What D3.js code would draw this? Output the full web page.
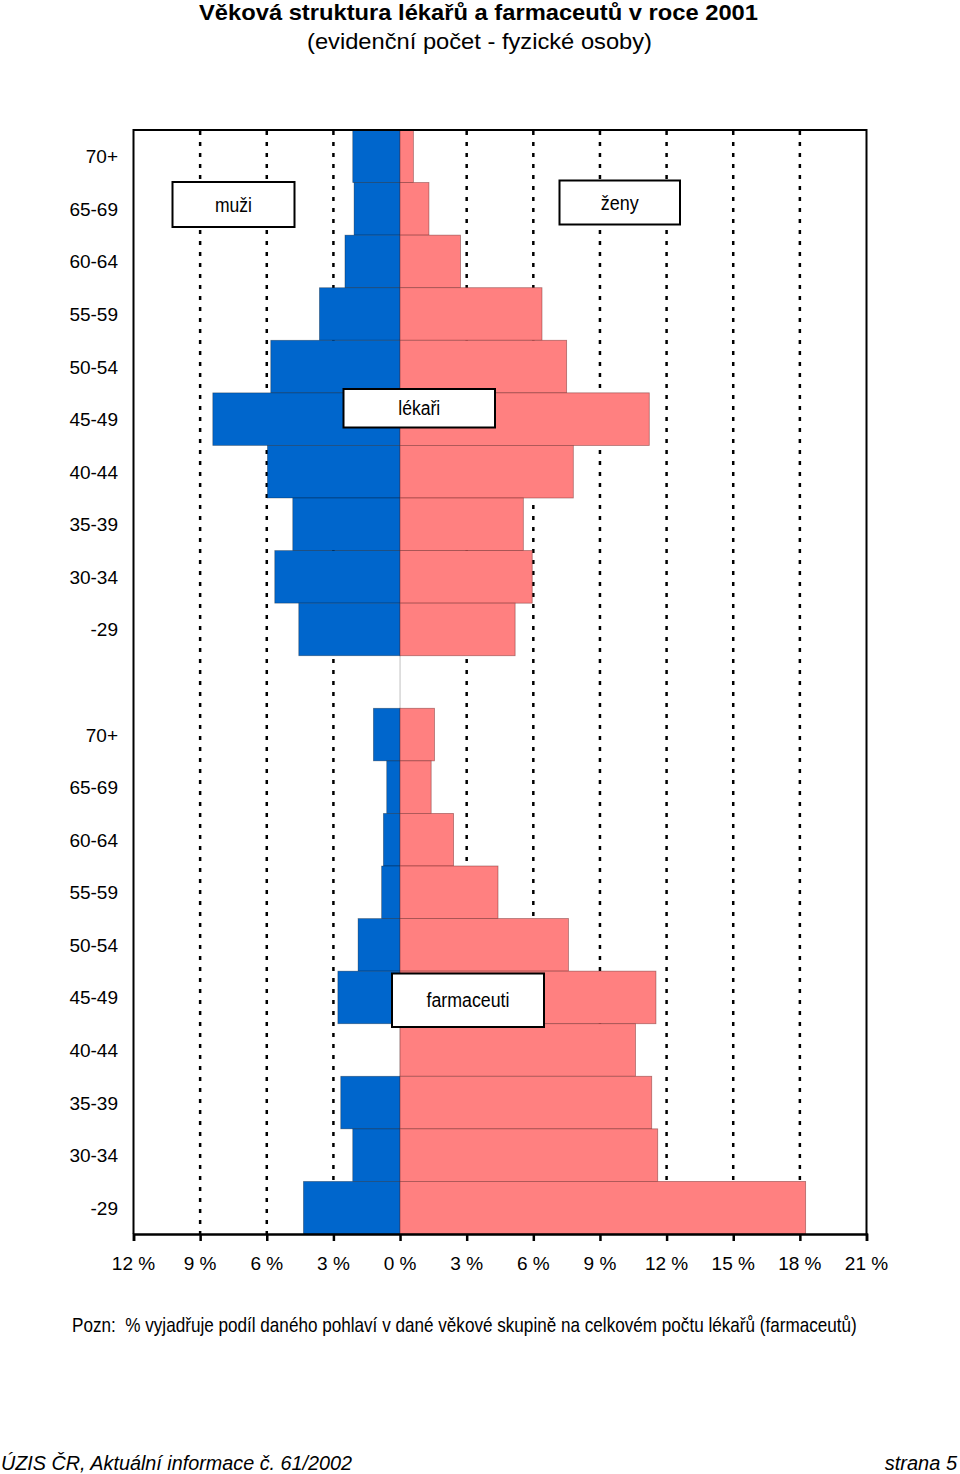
<!DOCTYPE html>
<html>
<head>
<meta charset="utf-8">
<script src="https://cdn.jsdelivr.net/npm/d3@7"></script>
<style>
  html, body { margin: 0; padding: 0; background: #fff; }
  svg { display: block; }
</style>
</head>
<body>
<svg id="chart" width="960" height="1474"></svg>
<script>
// ---- data (percent of total doctors / pharmacists) ----
const ageGroups = ["70+", "65-69", "60-64", "55-59", "50-54", "45-49", "40-44", "35-39", "30-34", "-29"];
const lekariMuzi = [2.13, 2.07, 2.48, 3.63, 5.82, 8.43, 5.97, 4.83, 5.64, 4.56];
const lekariZeny = [0.6, 1.3, 2.72, 6.39, 7.5, 11.22, 7.8, 5.55, 5.95, 5.18];
const farmMuzi   = [1.2, 0.6, 0.75, 0.83, 1.89, 2.8, 0, 2.67, 2.13, 4.35];
const farmZeny   = [1.55, 1.4, 2.41, 4.41, 7.58, 11.52, 10.6, 11.33, 11.6, 18.26];
const tickValues = [-12, -9, -6, -3, 0, 3, 6, 9, 12, 15, 18, 21];
const gridValues = [-9, -6, -3, 3, 6, 9, 12, 15, 18];
const titleText = "Věková struktura lékařů a farmaceutů v roce 2001";
const subtitleText = "(evidenční počet - fyzické osoby)";
const noteText = "Pozn:\u00a0\u00a0% vyjadřuje podíl daného pohlaví v dané věkové skupině na celkovém počtu lékařů (farmaceutů)";
const footerLeft = "ÚZIS ČR, Aktuální informace č. 61/2002";
const footerRight = "strana 5";

// ---- build rows ----
const rows = [];
ageGroups.forEach((g, i) => rows.push({key: "L" + i, label: g, m: lekariMuzi[i], f: lekariZeny[i]}));
rows.push({key: "gap", label: "", m: null, f: null});
ageGroups.forEach((g, i) => rows.push({key: "F" + i, label: g, m: farmMuzi[i], f: farmZeny[i]}));

const svg = d3.select("#chart");
const FONT = "'Liberation Sans', Arial, sans-serif";

const x = d3.scaleLinear().domain([-12, 21]).range([133.5, 866.5]);
const y = d3.scaleBand().domain(rows.map(r => r.key)).range([130, 1234]).padding(0);

// zero line
svg.append("line")
  .attr("x1", x(0)).attr("x2", x(0)).attr("y1", 130).attr("y2", 1234)
  .attr("stroke", "#c0c0c0").attr("stroke-width", 1);

// dotted gridlines
svg.append("g").selectAll("line").data(gridValues).join("line")
  .attr("x1", d => x(d)).attr("x2", d => x(d))
  .attr("y1", 131).attr("y2", 1234)
  .attr("stroke", "#000").attr("stroke-width", 2.5)
  .attr("stroke-dasharray", "4,7");

// bars
const barRows = rows.filter(r => r.m !== null);
svg.append("g").selectAll("rect.m").data(barRows).join("rect")
  .attr("x", d => x(-d.m)).attr("width", d => x(0) - x(-d.m))
  .attr("y", d => y(d.key)).attr("height", y.bandwidth())
  .attr("fill", "#0066CC")
  .attr("stroke", d => d.m > 0 ? "rgba(0,0,0,0.35)" : "none").attr("stroke-width", 0.8);
svg.append("g").selectAll("rect.f").data(barRows).join("rect")
  .attr("x", x(0)).attr("width", d => x(d.f) - x(0))
  .attr("y", d => y(d.key)).attr("height", y.bandwidth())
  .attr("fill", "#FF8080")
  .attr("stroke", "rgba(110,40,40,0.55)").attr("stroke-width", 0.8);

// frame: top, left, right
svg.append("path")
  .attr("d", `M${x(-12)},1234 V130 H${x(21)} V1234`)
  .attr("fill", "none").attr("stroke", "#000").attr("stroke-width", 2);

// bottom axis
const axis = d3.axisBottom(x).tickValues(tickValues).tickSize(7).tickFormat("");
const ax = svg.append("g").attr("transform", "translate(0,1234)").call(axis);
ax.select(".domain").attr("stroke", "#000").attr("stroke-width", 2.5);
ax.selectAll(".tick line").attr("stroke", "#000").attr("stroke-width", 2.5);
svg.append("g").selectAll("text").data(tickValues).join("text")
  .attr("x", d => x(d)).attr("y", 1270)
  .attr("text-anchor", "middle")
  .attr("font-family", FONT).attr("font-size", 19).attr("fill", "#000")
  .text(d => Math.abs(d) + " %");

// age labels
svg.append("g").selectAll("text").data(barRows).join("text")
  .attr("x", 118).attr("y", d => y(d.key) + y.bandwidth() / 2 + 7)
  .attr("text-anchor", "end")
  .attr("font-family", FONT).attr("font-size", 19).attr("fill", "#000")
  .text(d => d.label);

// label boxes
const boxes = [
  {t: "muži", x0: 172.5, x1: 294.5, y0: 182, y1: 227, w: 37},
  {t: "ženy", x0: 559.5, x1: 680, y0: 180.5, y1: 224.5, w: 38},
  {t: "lékaři", x0: 343.5, x1: 495, y0: 389, y1: 427.5, w: 42},
  {t: "farmaceuti", x0: 392, x1: 544, y0: 973.5, y1: 1027, w: 83}
];
const bg = svg.append("g").selectAll("g").data(boxes).join("g");
bg.append("rect")
  .attr("x", d => d.x0).attr("y", d => d.y0)
  .attr("width", d => d.x1 - d.x0).attr("height", d => d.y1 - d.y0)
  .attr("fill", "#fff").attr("stroke", "#000").attr("stroke-width", 2);
bg.append("text")
  .attr("x", d => (d.x0 + d.x1) / 2).attr("y", d => (d.y0 + d.y1) / 2 + 7)
  .attr("text-anchor", "middle")
  .attr("font-family", FONT).attr("font-size", 20).attr("fill", "#000")
  .attr("textLength", d => d.w).attr("lengthAdjust", "spacingAndGlyphs")
  .text(d => d.t);

// title & subtitle
svg.append("text").attr("x", 478.5).attr("y", 20).attr("text-anchor", "middle")
  .attr("font-family", FONT).attr("font-weight", "bold").attr("font-size", 22)
  .attr("textLength", 559).attr("lengthAdjust", "spacingAndGlyphs")
  .text(titleText);
svg.append("text").attr("x", 479.5).attr("y", 49).attr("text-anchor", "middle")
  .attr("font-family", FONT).attr("font-size", 22)
  .attr("textLength", 345).attr("lengthAdjust", "spacingAndGlyphs")
  .text(subtitleText);

// note (horizontally condensed to fit like the original narrow face)
const note = svg.append("text")
  .attr("font-family", FONT).attr("font-size", 20)
  .text(noteText);
const noteW = note.node().getComputedTextLength();
note.attr("transform", `translate(72,1332) scale(${785 / noteW},1)`);

// footer
svg.append("text").attr("x", 1).attr("y", 1470)
  .attr("font-family", FONT).attr("font-style", "italic").attr("font-size", 20)
  .attr("textLength", 351).attr("lengthAdjust", "spacingAndGlyphs")
  .text(footerLeft);
svg.append("text").attr("x", 957).attr("y", 1470).attr("text-anchor", "end")
  .attr("font-family", FONT).attr("font-style", "italic").attr("font-size", 20)
  .text(footerRight);
</script>
</body>
</html>
